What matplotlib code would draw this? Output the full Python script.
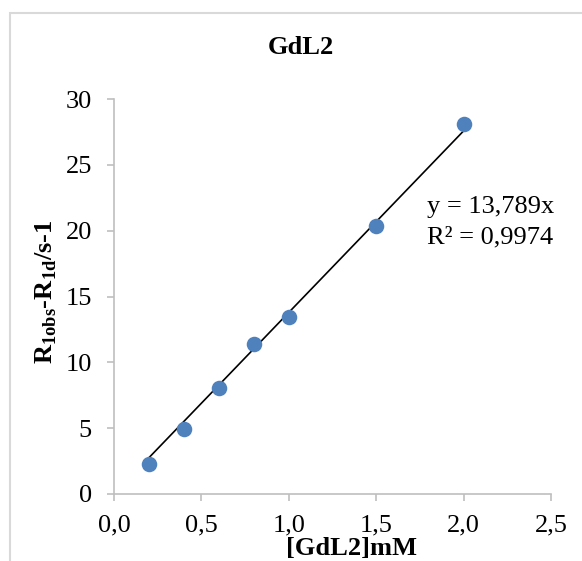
import matplotlib
matplotlib.use("Agg")
import matplotlib.pyplot as plt
from matplotlib.patches import Rectangle
import numpy as np

# data
conc = [0.2, 0.4, 0.6, 0.8, 1.0, 1.5, 2.0]
relax = [2.25, 4.9, 8.05, 11.37, 13.47, 20.38, 28.12]
slope = 13.789
r2_text = "0,9974"

x_ticks = [0.0, 0.5, 1.0, 1.5, 2.0, 2.5]
x_tick_labels = ["0,0", "0,5", "1,0", "1,5", "2,0", "2,5"]
y_ticks = [0, 5, 10, 15, 20, 25, 30]

plt.rcParams["font.family"] = ["Liberation Serif", "DejaVu Serif"]
plt.rcParams["mathtext.fontset"] = "custom"
plt.rcParams["mathtext.rm"] = "Liberation Serif"
plt.rcParams["mathtext.bf"] = "Liberation Serif:bold"

W, H = 582, 561
fig = plt.figure(figsize=(W / 100, H / 100), dpi=100)
ax = fig.add_axes([114 / W, 1 - 494 / H, (551 - 114) / W, (494 - 99) / H])

# chart border (excel style), runs past the right and bottom edges
fig.patches.append(Rectangle((10 / W, -0.1), 1.2, 1 - 13 / H + 0.1, transform=fig.transFigure,
                             fill=False, edgecolor="#D9D9D9", linewidth=1.5))

ax.scatter(conc, relax, s=125, color="#4F81BD", zorder=3, linewidths=0)

# linear trendline through origin
xl = np.array([conc[0], conc[-1]])
ax.plot(xl, slope * xl, color="black", linewidth=1.2, zorder=2)

ax.set_xlim(0, 2.5)
ax.set_ylim(0, 30)
ax.set_xticks(x_ticks)
ax.set_xticklabels(x_tick_labels)
ax.set_yticks(y_ticks)

gray = "#BFBFBF"
for side in ["top", "right"]:
    ax.spines[side].set_visible(False)
for side in ["left", "bottom"]:
    ax.spines[side].set_color(gray)
    ax.spines[side].set_linewidth(1.2)
ax.tick_params(axis="both", colors=gray, labelcolor="black", labelsize=19, length=5, width=1.2)
ax.tick_params(axis="y", pad=11)
ax.tick_params(axis="x", pad=10)
ax.set_facecolor("none")

fig.text(301 / W, 1 - 48 / H, "GdL2", ha="center", va="center", fontsize=19, fontweight="bold")
# reference has this label half off the bottom edge; keep it just inside
fig.text(352 / W, 1 / H, "[GdL2]mM", ha="center", va="bottom", fontsize=19, fontweight="bold")
fig.text(46 / W, 1 - 292 / H, r"R$_{\mathbf{1obs}}$-R$_{\mathbf{1d}}$/s-1", rotation=90,
         ha="center", va="center", fontsize=19, fontweight="bold")

fig.text(427 / W, 1 - 207 / H, "y = 13,789x", ha="left", va="center", fontsize=19)
fig.text(427 / W, 1 - 237 / H, "R² = " + r2_text, ha="left", va="center", fontsize=19)

fig.savefig("out.png", dpi=100)
